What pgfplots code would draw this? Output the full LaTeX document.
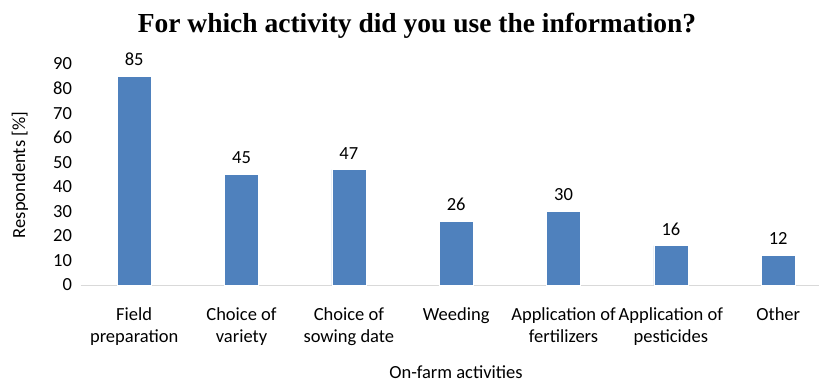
\documentclass[border=0pt]{standalone}
\usepackage{fontspec}
\setmainfont{Carlito}
\newfontfamily\titlefont{Liberation Serif}
\usepackage{pgfplots}
\pgfplotsset{compat=1.18}
\definecolor{barblue}{HTML}{4F81BD}
\definecolor{axgray}{HTML}{D9D9D9}
\begin{document}
\begin{tikzpicture}
\useasboundingbox (0,0) rectangle (819bp,383bp);
\begin{axis}[
  at={(80.5bp,98bp)}, anchor=south west,
  scale only axis, width=738.5bp, height=221bp,
  xmin=-0.5, xmax=6.38, ymin=0, ymax=90,
  ytick={0,10,...,90},
  xtick={0,...,6},
  xticklabels={Field\\preparation, Choice of\\variety, Choice of\\sowing date, Weeding, Application of\\fertilizers, Application of\\pesticides, Other},
  xticklabel style={align=center, font=\fontsize{18.5bp}{22bp}\selectfont, anchor=north, yshift=-19bp},
  yticklabel style={font=\fontsize{18.5bp}{22bp}\selectfont, anchor=east, xshift=-5bp},
  /pgf/number format/assume math mode=true,
  axis x line*=bottom, axis y line*=left,
  x axis line style={axgray, line width=1bp, -},
  y axis line style={draw=none},
  tick style={draw=none},
  major tick length=0pt,
  ybar, bar width=0.317,
  nodes near coords,
  every node near coord/.append style={font=\fontsize{18.5bp}{22bp}\selectfont, yshift=7bp},
  clip=false,
]
\addplot[fill=barblue, draw=white, line width=0.5bp] coordinates {(0,85) (1,45) (2,47) (3,26) (4,30) (5,16) (6,12)};
\end{axis}
\node[font=\fontsize{18.5bp}{22bp}\selectfont, rotate=90] at (20bp,208bp) {Respondents [\%]};
\node[font=\fontsize{18.5bp}{22bp}\selectfont] at (456bp,11bp) {On-farm activities};
\node[font=\titlefont\bfseries\fontsize{27.5bp}{30bp}\selectfont] at (417bp,357bp) {For which activity did you use the information?};
\end{tikzpicture}
\end{document}
